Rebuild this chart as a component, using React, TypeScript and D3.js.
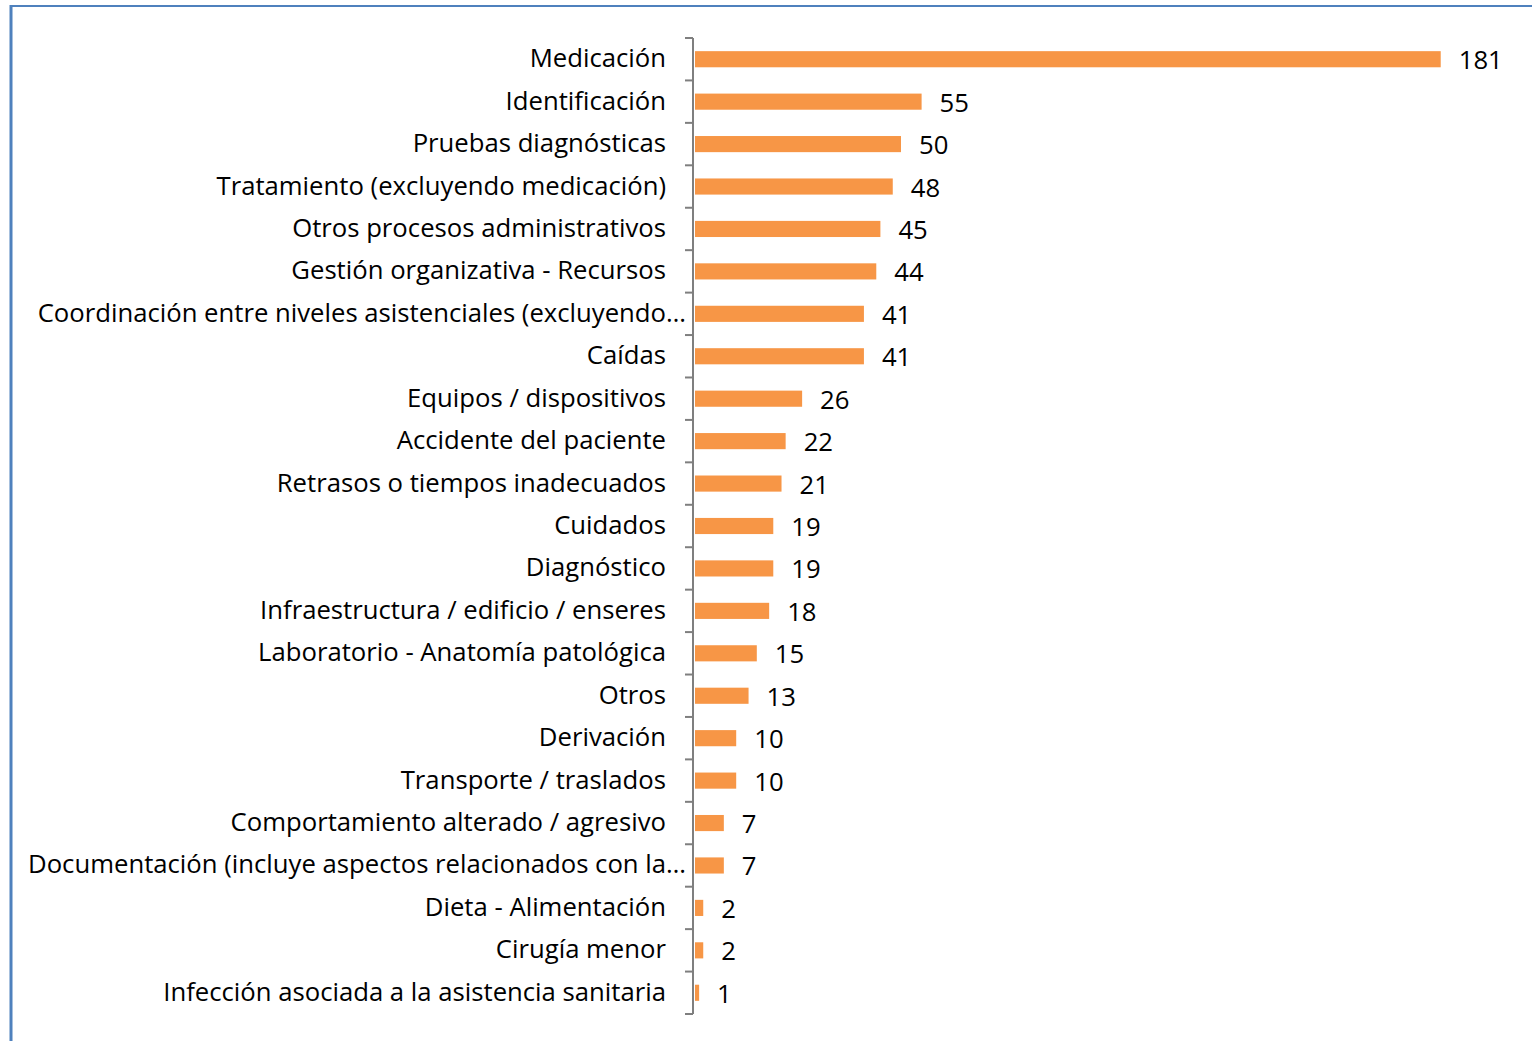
import React, { useEffect, useRef } from 'react';
import * as d3 from 'd3';

// Categories and counts, top to bottom as in the chart
const categories = [
  'Medicación',
  'Identificación',
  'Pruebas diagnósticas',
  'Tratamiento (excluyendo medicación)',
  'Otros procesos administrativos',
  'Gestión organizativa - Recursos',
  'Coordinación entre niveles asistenciales (excluyendo…',
  'Caídas',
  'Equipos / dispositivos',
  'Accidente del paciente',
  'Retrasos o tiempos inadecuados',
  'Cuidados',
  'Diagnóstico',
  'Infraestructura / edificio / enseres',
  'Laboratorio - Anatomía patológica',
  'Otros',
  'Derivación',
  'Transporte / traslados',
  'Comportamiento alterado / agresivo',
  'Documentación (incluye aspectos relacionados con la…',
  'Dieta - Alimentación',
  'Cirugía menor',
  'Infección asociada a la asistencia sanitaria',
];
const counts = [181, 55, 50, 48, 45, 44, 41, 41, 26, 22, 21, 19, 19, 18, 15, 13, 10, 10, 7, 7, 2, 2, 1];
const truncated = new Set([6, 19]);

const W = 1532;
const H = 1041;
const FONT = '"Open Sans", sans-serif';
const FS = 25.7;

const App: React.FC = () => {
  const axisRef = useRef<SVGGElement>(null);

  const x = d3.scaleLinear().domain([0, 200]).range([695, 1519]);
  const y = d3.scaleBand<string>()
    .domain(categories)
    .range([38, 1014])
    .paddingInner(0.62)
    .paddingOuter(0.31);
  const step = y.step();

  useEffect(() => {
    if (!axisRef.current) return;
    const g = d3.select(axisRef.current);
    g.selectAll('*').remove();
    // axis spine
    g.append('line')
      .attr('x1', 693).attr('x2', 693)
      .attr('y1', 38).attr('y2', 1014)
      .attr('stroke', '#7F7F7F').attr('stroke-width', 2);
    // tick marks sit at category boundaries
    const bounds = d3.range(categories.length + 1).map(i => 38 + i * step);
    g.selectAll('line.tick')
      .data(bounds)
      .join('line')
      .attr('class', 'tick')
      .attr('x1', 685).attr('x2', 693)
      .attr('y1', d => d).attr('y2', d => d)
      .attr('stroke', '#7F7F7F').attr('stroke-width', 2);
  }, [step]);

  return (
    <svg width={W} height={H} style={{ position: 'absolute', left: 0, top: 0, background: '#fff' }}>
      {/* outer frame */}
      <line x1={11} x2={W} y1={6} y2={6} stroke="#4F81BD" strokeWidth={2} />
      <line x1={11} x2={11} y1={5} y2={H} stroke="#4F81BD" strokeWidth={3} />

      {categories.map((c, i) => {
        const cy = (y(c) ?? 0) + y.bandwidth() / 2;
        return (
          <g key={c}>
            <rect
              x={x(0)}
              y={y(c)}
              width={x(counts[i]) - x(0)}
              height={y.bandwidth()}
              fill="#F79646"
            />
            <text
              x={truncated.has(i) ? 686 : 666}
              y={cy + 8}
              textAnchor="end"
              fontFamily={FONT}
              fontSize={FS}
              fill="#000"
            >
              {c}
            </text>
            <text
              x={x(counts[i]) + 18}
              y={cy + 10}
              fontFamily={FONT}
              fontSize={FS}
              fill="#000"
            >
              {counts[i]}
            </text>
          </g>
        );
      })}
      <g ref={axisRef} />
    </svg>
  );
};

export default App;
